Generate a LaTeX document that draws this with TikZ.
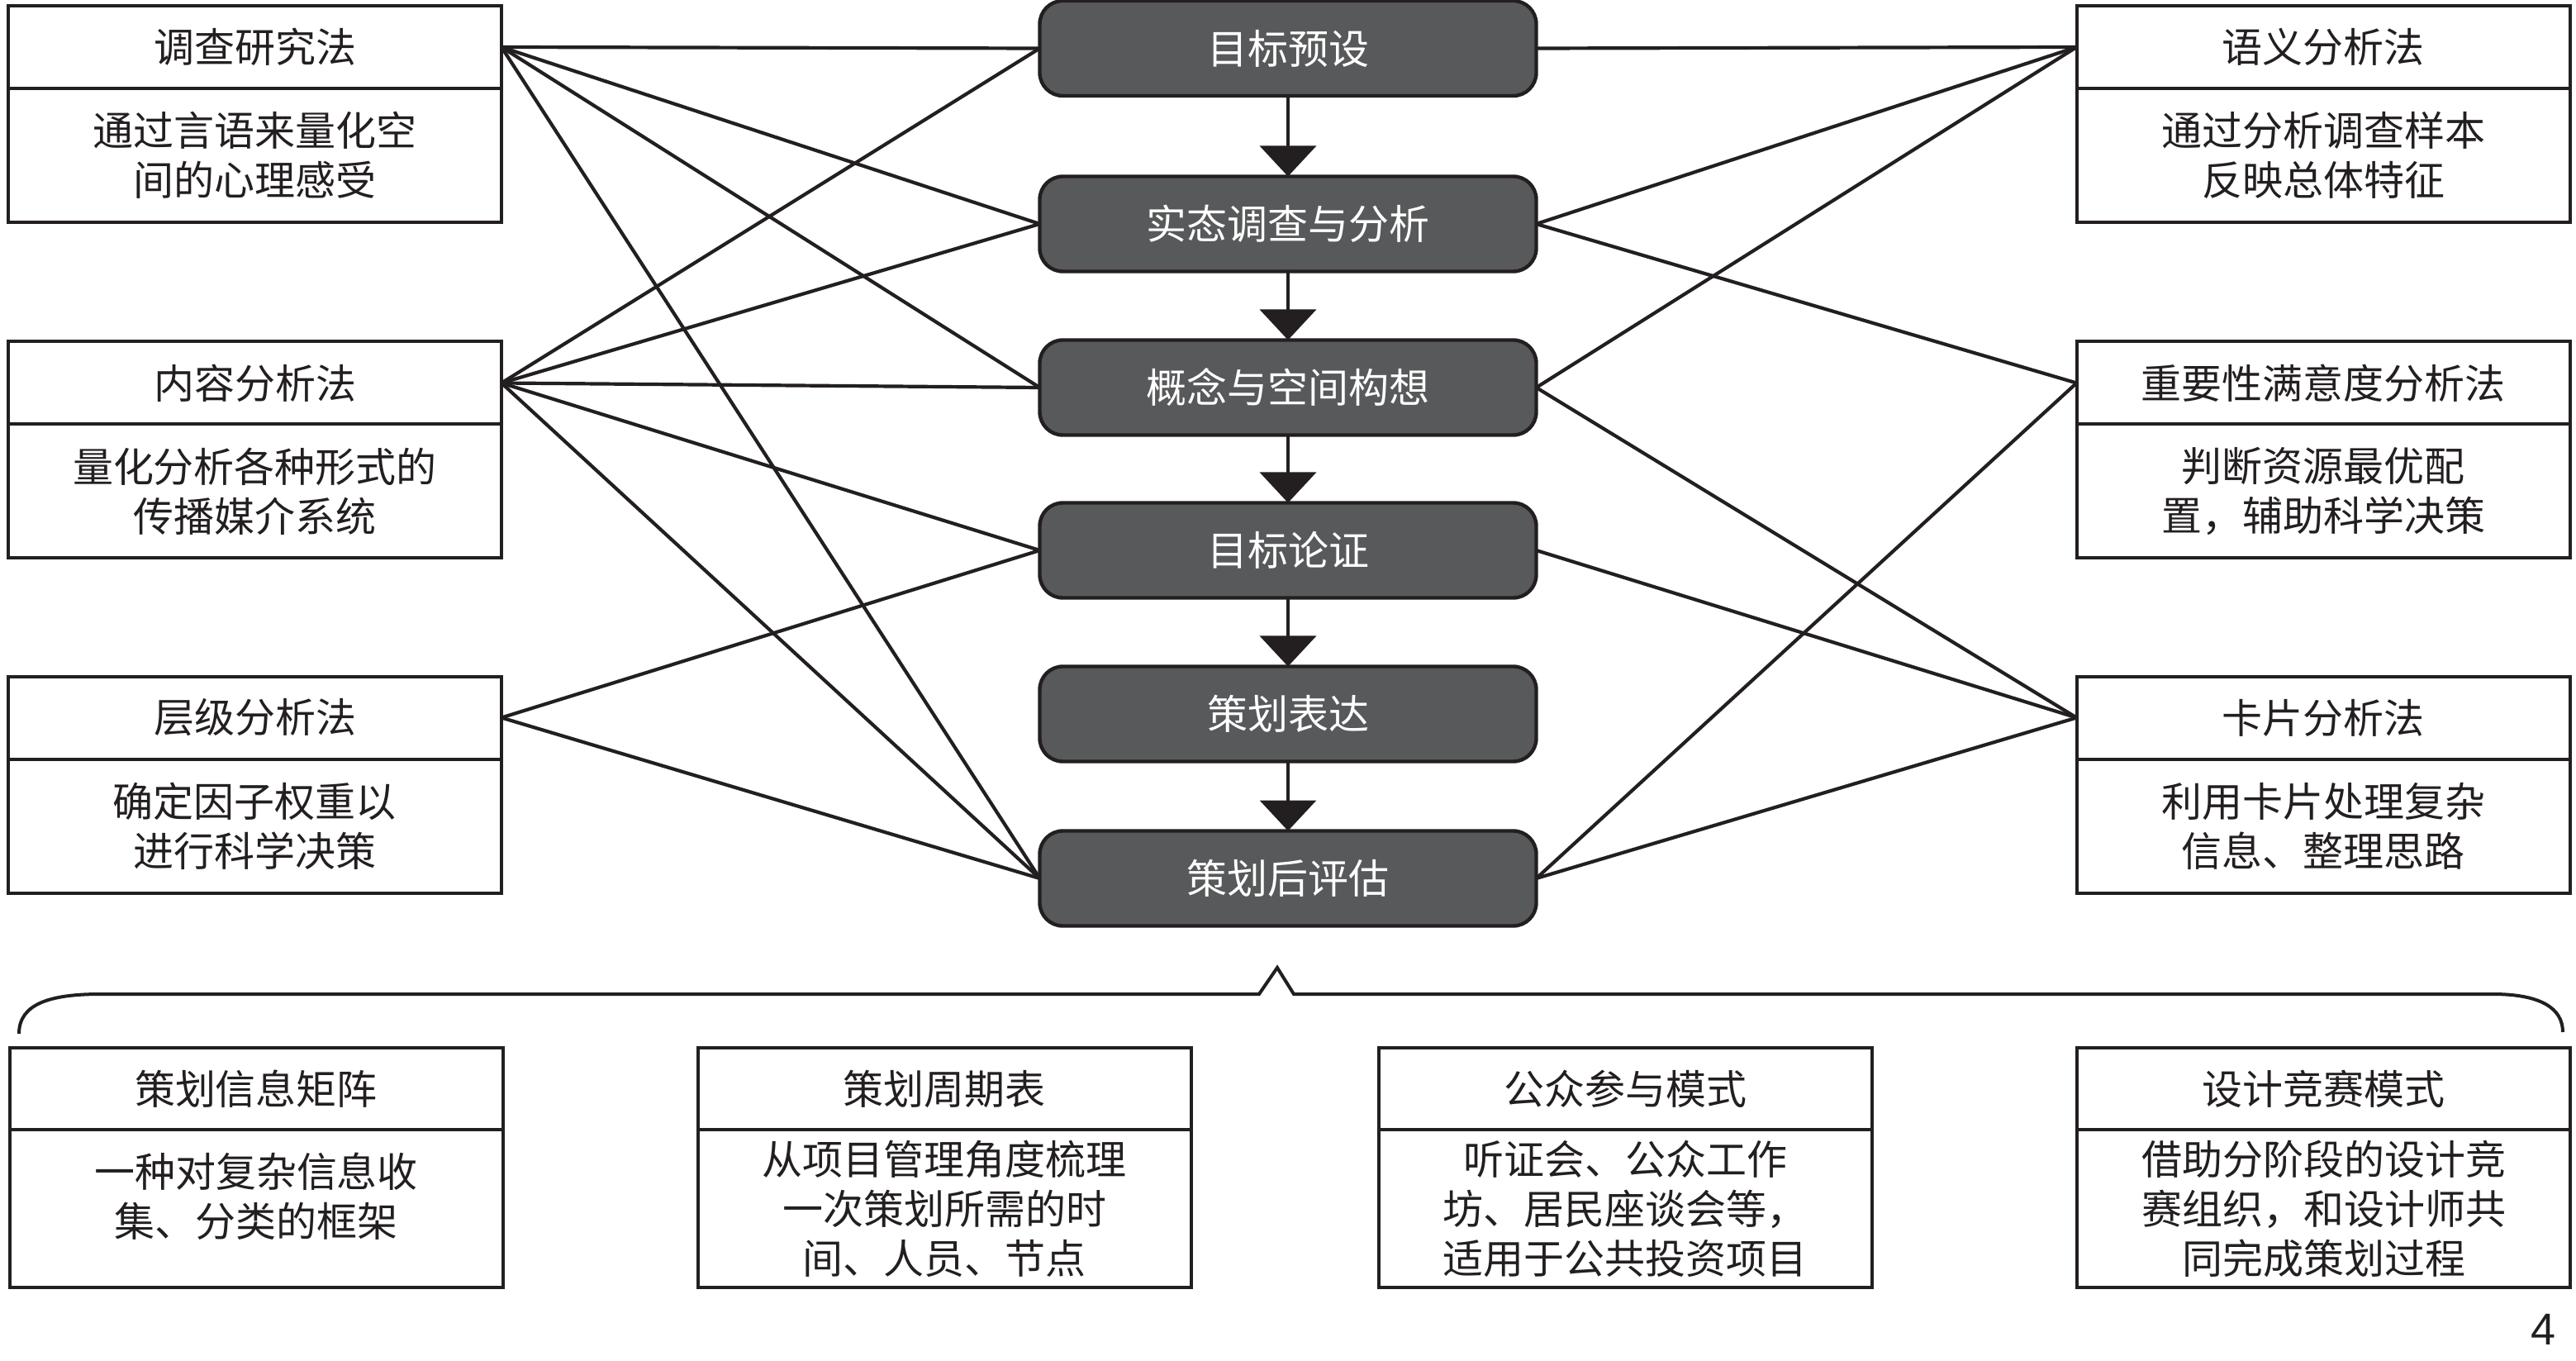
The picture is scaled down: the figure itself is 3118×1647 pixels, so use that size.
\documentclass[tikz,border=0pt]{standalone}
\usepackage{fontspec}
\setmainfont{Noto Sans CJK SC}
\newfontfamily\numfont{Liberation Sans}
\usetikzlibrary{arrows.meta}
\definecolor{ink}{HTML}{231F20}
\definecolor{boxgray}{HTML}{58595B}
\begin{document}
\begin{tikzpicture}[x=0.25pt,y=-0.25pt,
  every node/.style={font=\fontsize{12.25pt}{15pt}\selectfont, text=ink, inner sep=0pt, outer sep=0pt, align=center},
  cbox/.style={draw=ink, fill=boxgray, line width=1.1pt, rounded corners=7pt, minimum width=150.25pt, minimum height=28.75pt, text=white},
  hbox/.style={draw=ink, line width=1pt, minimum width=149.25pt, minimum height=25pt},
  bbox/.style={draw=ink, line width=1pt, minimum width=149.25pt, minimum height=40.5pt},
  qhbox/.style={draw=ink, line width=1pt, minimum width=149.25pt, minimum height=24.75pt},
  qbbox/.style={draw=ink, line width=1pt, minimum width=149.25pt, minimum height=47.75pt},
  arr/.style={draw=ink, line width=1pt, -{Triangle[width=17pt,length=9.25pt]}},
  conn/.style={draw=ink, line width=1.05pt}]
\useasboundingbox (0,0) rectangle (3118,1647);

% center column
\node[cbox] (c1) at (1559,58.5) {目标预设};
\node[cbox] (c2) at (1559,271) {实态调查与分析};
\node[cbox] (c3) at (1559,469) {概念与空间构想};
\node[cbox] (c4) at (1559,666) {目标论证};
\node[cbox] (c5) at (1559,864) {策划表达};
\node[cbox] (c6) at (1559,1063) {策划后评估};
\draw[arr] (c1) -- (c2);
\draw[arr] (c2) -- (c3);
\draw[arr] (c3) -- (c4);
\draw[arr] (c4) -- (c5);
\draw[arr] (c5) -- (c6);

% left boxes
\node[hbox] (lh1) at (308.5,57) {调查研究法};
\node[bbox] (lb1) at (308.5,188) {通过言语来量化空\\间的心理感受};
\node[hbox] (lh2) at (308.5,463.5) {内容分析法};
\node[bbox] (lb2) at (308.5,594.5) {量化分析各种形式的\\传播媒介系统};
\node[hbox] (lh3) at (308.5,868.5) {层级分析法};
\node[bbox] (lb3) at (308.5,999.5) {确定因子权重以\\进行科学决策};

% right boxes
\node[hbox] (rh1) at (2812,57) {语义分析法};
\node[bbox] (rb1) at (2812,188) {通过分析调查样本\\反映总体特征};
\node[hbox] (rh2) at (2812,463.5) {重要性满意度分析法};
\node[bbox] (rb2) at (2812,594.5) {判断资源最优配\\置，辅助科学决策};
\node[hbox] (rh3) at (2812,868.5) {卡片分析法};
\node[bbox] (rb3) at (2812,999.5) {利用卡片处理复杂\\信息、整理思路};

% left connectors
\draw[conn] (lh1.east) -- (c1.west);
\draw[conn] (lh1.east) -- (c2.west);
\draw[conn] (lh1.east) -- (c3.west);
\draw[conn] (lh1.east) -- (c6.west);
\draw[conn] (lh2.east) -- (c1.west);
\draw[conn] (lh2.east) -- (c2.west);
\draw[conn] (lh2.east) -- (c3.west);
\draw[conn] (lh2.east) -- (c4.west);
\draw[conn] (lh2.east) -- (c6.west);
\draw[conn] (lh3.east) -- (c4.west);
\draw[conn] (lh3.east) -- (c6.west);

% right connectors
\draw[conn] (c1.east) -- (rh1.west);
\draw[conn] (c2.east) -- (rh1.west);
\draw[conn] (c3.east) -- (rh1.west);
\draw[conn] (c2.east) -- (rh2.west);
\draw[conn] (c6.east) -- (rh2.west);
\draw[conn] (c3.east) -- (rh3.west);
\draw[conn] (c4.east) -- (rh3.west);
\draw[conn] (c6.east) -- (rh3.west);

% brace
\draw[ink, line width=1pt, line join=miter] (23,1251) .. controls (23,1215) and (60,1203) .. (122,1203) -- (1524,1203) -- (1546,1171) -- (1566,1203) -- (3017,1203) .. controls (3075,1203) and (3102,1220) .. (3102,1249);

% bottom boxes
\node[qhbox] (bh1) at (310,1317.5) {策划信息矩阵};
\node[qbbox] (bb1) at (310,1462.5) {};
\node (bt1) at (310,1448) {一种对复杂信息收\\集、分类的框架};
\node[qhbox] (bh2) at (1143,1317.5) {策划周期表};
\node[qbbox] (bb2) at (1143,1462.5) {从项目管理角度梳理\\一次策划所需的时\\间、人员、节点};
\node[qhbox] (bh3) at (1967,1317.5) {公众参与模式};
\node[qbbox] (bb3) at (1967,1462.5) {听证会、公众工作\\坊、居民座谈会等，\\适用于公共投资项目};
\node[qhbox] (bh4) at (2812.5,1317.5) {设计竞赛模式};
\node[qbbox] (bb4) at (2812.5,1462.5) {借助分阶段的设计竞\\赛组织，和设计师共\\同完成策划过程};

\node[font=\numfont\fontsize{13.5pt}{16pt}\selectfont] (pg) at (3078,1609) {4};
\end{tikzpicture}
\end{document}
